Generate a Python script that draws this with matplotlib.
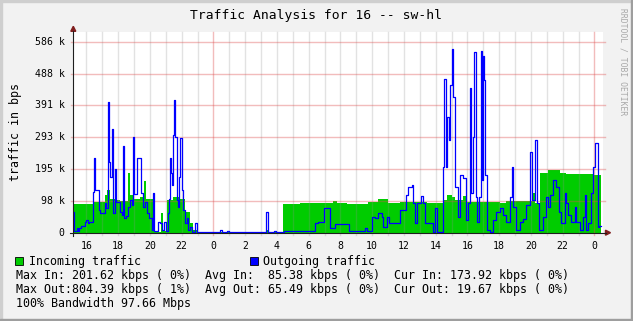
import matplotlib
matplotlib.use("Agg")
import matplotlib.pyplot as plt
from matplotlib.patches import Rectangle, Polygon
from matplotlib.transforms import Affine2D
from matplotlib.lines import Line2D

W, H, DPI = 633, 321, 100

# ---------------- data (hours since midnight of day 1; kbps) ----------------
in_hours = [15.14, 16.41, 17.14, 17.29, 17.46, 17.78, 18.09, 18.62, 18.73, 18.94, 19.36,
            19.61, 19.78, 20.25, 20.69, 20.84, 21.05, 21.47, 21.89, 22.21, 22.52,
            22.69, 22.95, 27.31, 27.42, 28.39, 29.46, 31.55, 31.76, 32.39, 33.76,
            34.39, 35.01, 35.75, 37.43, 38.48, 38.69, 39.00, 39.21, 39.74, 39.95,
            42.04, 42.46, 44.14, 44.25, 44.60, 45.08, 45.82, 46.24, 47.92]
in_kbps = [88, 95, 116, 131, 105, 100, 98, 184, 116, 105, 110,
           158, 105, 3, 61, 5, 100, 110, 105, 64, 29,
           8, 1, 8, 1, 88, 90, 98, 92, 88, 95,
           102, 92, 95, 90, 100, 115, 110, 100, 112, 95,
           90, 98, 121, 92, 184, 192, 184, 180, 176]

out_hours = [15.14, 15.22, 15.39, 15.48, 15.56, 15.67, 15.88, 15.98, 16.09, 16.19,
             16.43, 16.47, 16.55, 16.76, 16.83, 17.14, 17.25, 17.35, 17.44, 17.50,
             17.61, 17.69, 17.80, 17.86, 18.09, 18.22, 18.30, 18.37, 18.47, 18.62,
             18.77, 18.87, 18.94, 19.00, 19.21, 19.46, 19.57, 19.70, 19.80, 19.93,
             20.10, 20.20, 20.27, 20.52, 20.62, 20.77, 20.90, 20.98, 21.11, 21.19,
             21.26, 21.32, 21.41, 21.47, 21.51, 21.59, 21.68, 21.76, 21.83, 21.89,
             22.00, 22.10, 22.21, 22.31, 22.42, 22.52, 22.63, 22.84, 22.95, 24.44,
             24.51, 24.88, 24.97, 27.31, 27.42, 27.84, 27.92, 28.43, 30.40, 30.61,
             30.97, 31.34, 31.66, 32.56, 33.55, 33.65, 33.97, 34.18, 34.39, 34.60,
             34.70, 34.95, 35.08, 35.75, 36.13, 36.27, 36.48, 36.59, 36.69, 36.80,
             37.05, 37.18, 37.32, 37.85, 37.97, 38.06, 38.43, 38.54, 38.62, 38.71,
             38.81, 38.90, 39.00, 39.11, 39.21, 39.42, 39.53, 39.74, 39.88, 40.05,
             40.15, 40.22, 40.32, 40.41, 40.53, 40.62, 40.72, 40.83, 40.89, 40.95,
             41.04, 41.12, 41.25, 41.41, 41.62, 41.83, 42.04, 42.25, 42.46, 42.67,
             42.78, 42.88, 43.05, 43.30, 43.51, 43.72, 43.93, 44.08, 44.25, 44.39,
             44.52, 44.77, 44.98, 45.08, 45.23, 45.40, 45.61, 45.78, 45.92, 46.13,
             46.24, 46.34, 46.55, 46.76, 46.87, 47.08, 47.25, 47.39, 47.50, 47.60,
             47.81, 47.92, 48.02, 48.23, 48.30]
out_kbps = [64, 5, 13, 5, 13, 20, 34, 39, 29, 32,
            126, 228, 131, 70, 59, 92, 75, 402, 218, 172,
            317, 60, 197, 95, 64, 55, 266, 44, 50, 80,
            100, 85, 295, 120, 230, 121, 80, 95, 60, 44,
            8, 121, 5, 34, 29, 8, 34, 5, 60, 105,
            228, 182, 146, 300, 407, 295, 100, 80, 172, 290,
            130, 70, 30, 44, 8, 18, 3, 29, 2, 8,
            2, 5, 2, 64, 2, 4, 2, 5, 29, 34,
            75, 13, 26, 5, 13, 5, 49, 44, 61, 49,
            18, 49, 29, 70, 115, 141, 146, 90, 29, 90,
            112, 90, 29, 3, 75, 3, 202, 473, 202, 356,
            284, 453, 565, 417, 141, 49, 177, 167, 39, 90,
            443, 121, 295, 555, 110, 34, 110, 558, 162, 542,
            468, 177, 8, 3, 39, 64, 75, 54, 34, 110,
            202, 80, 8, 34, 41, 85, 249, 100, 284, 90,
            8, 49, 110, 80, 115, 162, 141, 64, 31, 121,
            90, 54, 34, 80, 34, 8, 49, 115, 8, 29,
            121, 202, 274, 18, 20]

end_hour = 48.41
x_start, x_end = 15.17, 48.54
y_max = 615.4

tick_hours = list(range(16, 49, 2))
tick_labels = [str(h % 24) for h in tick_hours]
y_ticks = [97.66 * i for i in range(1, 7)]
y_labels = ["98 k", "195 k", "293 k", "391 k", "488 k", "586 k"]

title = "Traffic Analysis for 16 -- sw-hl"
y_title = "traffic in bps"
watermark = "RRDTOOL / TOBI OETIKER"
legend_in = "Incoming traffic"
legend_out = "Outgoing traffic"
stat_lines = [
    "Max In: 201.62 kbps ( 0%)  Avg In:  85.38 kbps ( 0%)  Cur In: 173.92 kbps ( 0%)",
    "Max Out:804.39 kbps ( 1%)  Avg Out: 65.49 kbps ( 0%)  Cur Out: 19.67 kbps ( 0%)",
    "100% Bandwidth 97.66 Mbps",
]

# ---------------- styling ----------------
BACK = "#F2F2F2"
GREEN = "#00CC00"
BLUE = "#0000FF"
MINOR = (0.56, 0.56, 0.56, 0.26)
MAJOR = (0.87, 0.31, 0.31, 0.38)
ARROW = "#801F1F"
AXIS = "#1F1F1F"
FONT = "DejaVu Sans Mono"
plt.rcParams["font.family"] = [FONT, "DejaVu Sans"]

fig = plt.figure(figsize=(W / DPI, H / DPI), dpi=DPI, facecolor=BACK)
px = Affine2D().scale(1.0 / W, -1.0 / H).translate(0, 1) + fig.transFigure

# 3D frame
fig.patches.append(Rectangle((0, 0), W, 2, transform=px, color="#CFCFCF", zorder=0))
fig.patches.append(Rectangle((0, 0), 2, H, transform=px, color="#CFCFCF", zorder=0))
fig.patches.append(Rectangle((0, H - 2), W, 2, transform=px, color="#9E9E9E", zorder=0))
fig.patches.append(Rectangle((W - 2, 0), 2, H, transform=px, color="#9E9E9E", zorder=0))

L, R, T, B = 73.3, 603.0, 32.3, 232.7
ax = fig.add_axes([L / W, (H - B) / H, (R - L) / W, (B - T) / H])
ax.set_facecolor("white")
ax.set_xlim(x_start, x_end)
ax.set_ylim(0, y_max)
for s in ax.spines.values():
    s.set_visible(False)
ax.set_xticks([])
ax.set_yticks([])

# data
ih = in_hours + [end_hour]
iv = in_kbps + [in_kbps[-1]]
oh = out_hours + [end_hour]
ov = out_kbps + [out_kbps[-1]]
ax.fill_between(ih, 0, iv, step="post", color=GREEN, lw=0, zorder=2)
ax.step(oh, ov, where="post", color=BLUE, lw=0.9, zorder=4)

# grid (on top, translucent)
for h in range(16, 49):
    c = MAJOR if h % 24 == 0 else MINOR
    ax.axvline(h, ymin=-0.012, ymax=1, color=c, lw=1.0, zorder=3, clip_on=False)
for yv in y_ticks:
    ax.axhline(yv, xmin=-0.005, xmax=1.004, color=MAJOR, lw=1.0, zorder=3, clip_on=False)

# axes lines + arrows
fig.lines.append(Line2D([L, L], [B + 3, T - 1], transform=px, color=AXIS, lw=0.8))
fig.lines.append(Line2D([L - 3, R + 3], [B, B], transform=px, color=AXIS, lw=0.8))
fig.patches.append(Polygon([[L - 2.5, T - 1], [L + 2.5, T - 1], [L, T - 6]], closed=True,
                           transform=px, color=ARROW))
fig.patches.append(Polygon([[R + 2.5, B - 2.5], [R + 2.5, B + 2.5], [R + 7.5, B]], closed=True,
                           transform=px, color=ARROW))

# tick labels
AX_FS = 7.1
for yv, lab in zip([0] + y_ticks, ["0"] + y_labels):
    ax.text(-0.016, yv, lab, transform=ax.get_yaxis_transform(), ha="right", va="center",
            fontsize=AX_FS, family=FONT)
for hv, lab in zip(tick_hours, tick_labels):
    ax.text(hv, -0.04, lab, transform=ax.get_xaxis_transform(), ha="center", va="top",
            fontsize=AX_FS, family=FONT)

# titles
fig.text(316 / W, 1 - 16 / H, title, ha="center", va="center", fontsize=9.4, family=FONT)
fig.text(16 / W, 1 - 132 / H, y_title, ha="center", va="center", rotation=90,
         fontsize=8.4, family=FONT)
fig.text(623 / W, 1 - 8 / H, watermark, ha="center", va="top", rotation=270,
         fontsize=5.8, family=FONT, color="#A8A8A8")

# legend
LFS = 8.4
for sx, col, lab, tx in [(15, GREEN, legend_in, 29), (250, BLUE, legend_out, 263)]:
    fig.patches.append(Rectangle((sx, 257), 8, 8, transform=px, facecolor=col,
                                 edgecolor="#000000", lw=0.6))
    fig.text(tx / W, 1 - 261 / H, lab, ha="left", va="center", fontsize=LFS, family=FONT)
for i, line in enumerate(stat_lines):
    fig.text(16 / W, 1 - (275.5 + 14 * i) / H, line, ha="left", va="center",
             fontsize=LFS, family=FONT)

fig.savefig("out.png", dpi=DPI, facecolor=BACK)
